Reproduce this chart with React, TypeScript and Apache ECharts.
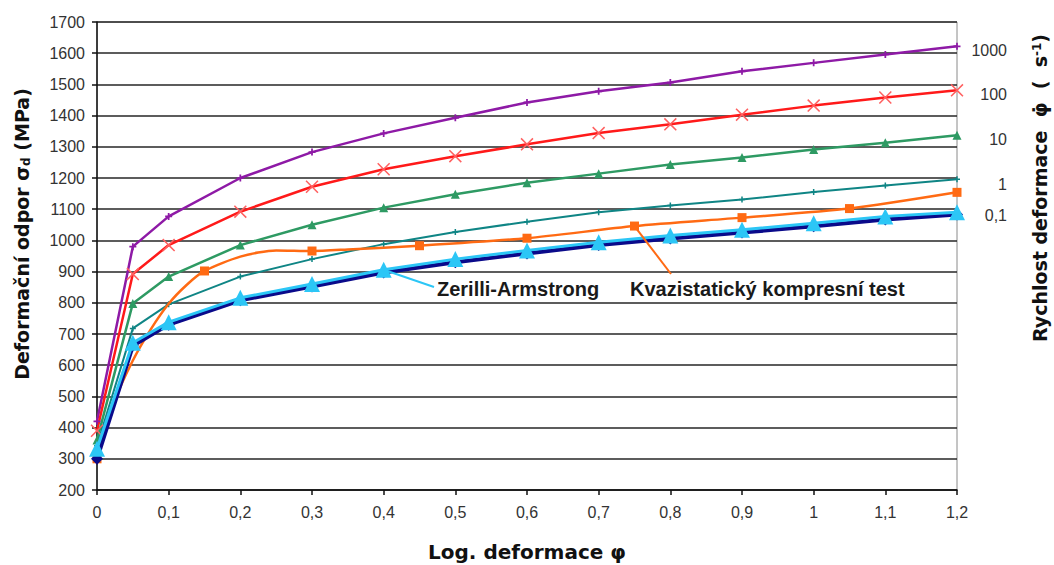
import React, { useEffect, useRef } from 'react';
import * as echarts from 'echarts';

// Log. deformace (strain) at which the model curves were sampled
const strain = [0, 0.05, 0.1, 0.2, 0.3, 0.4, 0.5, 0.6, 0.7, 0.8, 0.9, 1.0, 1.1, 1.2];
// Flow stress (MPa) for strain rates (s^-1)
const rate1000 = [420, 980, 1077, 1200, 1283, 1343, 1393, 1442, 1478, 1506, 1542, 1569, 1596, 1622];
const rate100 = [390, 892, 985, 1092, 1172, 1228, 1270, 1308, 1344, 1372, 1403, 1432, 1458, 1481];
const rate10 = [360, 798, 884, 985, 1050, 1105, 1148, 1185, 1214, 1243, 1266, 1291, 1313, 1337];
const rate1 = [342, 718, 795, 884, 940, 988, 1027, 1060, 1090, 1112, 1131, 1155, 1176, 1196];
const rate01 = [300, 662, 730, 808, 852, 897, 930, 958, 985, 1006, 1025, 1045, 1067, 1083];
const zerilli = [332, 672, 738, 816, 860, 906, 940, 968, 994, 1016, 1034, 1055, 1077, 1090];
// Quasi-static compression test
const kvStrain = [0, 0.025, 0.05, 0.075, 0.1, 0.125, 0.15, 0.2, 0.25, 0.3, 0.35, 0.45, 0.6, 0.75, 0.9, 1.05, 1.2];
const kvStress = [300, 487, 615, 715, 797, 857, 902, 948, 968, 966, 971, 983, 1007, 1046, 1073, 1102, 1154];
const kvMeasured = [0, 0.15, 0.3, 0.45, 0.6, 0.75, 0.9, 1.05, 1.2];

const xTickLabels = ['0', '0,1', '0,2', '0,3', '0,4', '0,5', '0,6', '0,7', '0,8', '0,9', '1', '1,1', '1,2'];
const rateLabels = ['1000', '100', '10', '1', '0,1'];

const pair = (xs: number[], ys: number[]) => xs.map((x, i) => [x, ys[i]]);

const plusPath = 'path://M3,0H5V3H8V5H5V8H3V5H0V3H3Z';
const crossPath = 'path://M0,1L1,0L6,5L11,0L12,1L7,6L12,11L11,12L6,7L1,12L0,11L5,6Z';
const arial = 'Liberation Sans, Arial, sans-serif';
const dejavu = 'DejaVu Sans, Verdana, sans-serif';

const mk = (
  name: string, ys: number[], color: string, width: number, symbol: string,
  size: number, z: number, label?: string, dy = 4, symColor?: string
) => ({
  type: 'line', name, data: pair(strain, ys), symbol, symbolSize: size,
  showAllSymbol: true, z,
  lineStyle: { color, width },
  itemStyle: { color: symColor ?? color },
  emphasis: { disabled: true },
  endLabel: label
    ? { show: true, formatter: () => label, color: '#333', fontSize: 16, fontFamily: arial,
        align: 'right', distance: 0, offset: [50, dy] }
    : { show: false },
});

export default function App() {
  const ref = useRef<HTMLDivElement>(null);
  useEffect(() => {
    const chart = echarts.init(ref.current!, null, { renderer: 'svg' });
    const option: any = {
      animation: false,
      backgroundColor: '#fff',
      grid: { left: 97, right: 97, top: 22, bottom: 75, show: true, borderColor: '#8a8a8a', borderWidth: 1 },
      xAxis: {
        type: 'value', min: 0, max: 1.2, interval: 0.1,
        axisLine: { show: true, onZero: false, lineStyle: { color: '#111', width: 1.5 } },
        axisTick: { show: true, length: 5, lineStyle: { color: '#111', width: 1.5 } },
        splitLine: { show: false },
        axisLabel: {
          formatter: (v: number) => xTickLabels[Math.round(v * 10)], margin: 14,
          fontSize: 16, color: '#333', fontFamily: arial,
        },
      },
      yAxis: {
        type: 'value', min: 200, max: 1700, interval: 100,
        axisLine: { show: true, lineStyle: { color: '#111', width: 1.5 } },
        axisTick: { show: true, length: 5, lineStyle: { color: '#111', width: 1.5 } },
        splitLine: { show: true, lineStyle: { color: '#262626', width: 1.6 } },
        axisLabel: {
          formatter: (v: number) => String(v),
          fontSize: 16, color: '#333', fontFamily: arial, margin: 12,
        },
      },
      series: [
        mk('1000', rate1000, '#8e1aa6', 2.5, plusPath, 7, 5, rateLabels[0], 4),
        mk('100', rate100, '#ff1a1a', 2.5, crossPath, 13, 5, rateLabels[1], 4, '#ff6060'),
        mk('10', rate10, '#2e9a63', 2.5, 'triangle', 9, 5, rateLabels[2], 4),
        mk('1', rate1, '#0f8585', 2, plusPath, 6, 5, rateLabels[3], 5),
        {
          type: 'line', name: 'Kvazistatický kompresní test', z: 6, smooth: 0.25,
          data: kvStrain.map((x, i) => ({
            value: [x, kvStress[i]],
            symbol: kvMeasured.includes(x) ? 'rect' : 'none',
          })),
          symbolSize: 9, showAllSymbol: true,
          lineStyle: { color: '#ff6a13', width: 2.5 },
          itemStyle: { color: '#ff6a13' },
          emphasis: { disabled: true },
        },
        mk('0,1', rate01, '#0a0a8a', 4, 'diamond', 12, 7, rateLabels[4], 1),
        mk('Zerilli-Armstrong', zerilli, '#2cc6f6', 3, 'triangle', 16, 8),
      ],
    };
    chart.setOption(option);

    const pZA = chart.convertToPixel({ gridIndex: 0 }, [strain[5], zerilli[5]]) as number[];
    const k = kvStrain.indexOf(0.75);
    const pKV = chart.convertToPixel({ gridIndex: 0 }, [kvStrain[k], kvStress[k]]) as number[];

    chart.setOption({
      graphic: [
        {
          type: 'text', x: 22, y: 234, rotation: Math.PI / 2,
          style: {
            text: '{a|Deformační odpor σ}{s|d}{a| (MPa)}',
            rich: {
              a: { fontFamily: dejavu, fontSize: 19, fontWeight: 'bold', fill: '#111' },
              s: { fontFamily: dejavu, fontSize: 12, fontWeight: 'bold', fill: '#111', verticalAlign: 'bottom' },
            },
            align: 'center', verticalAlign: 'middle',
          },
        },
        {
          type: 'text', x: 1040, y: 188, rotation: Math.PI / 2,
          style: {
            text: '{a|Rychlost deformace  φ̇  (  s}{p|-1}{a|)}',
            rich: {
              a: { fontFamily: dejavu, fontSize: 19, fontWeight: 'bold', fill: '#111' },
              p: { fontFamily: dejavu, fontSize: 12, fontWeight: 'bold', fill: '#111', verticalAlign: 'top' },
            },
            align: 'center', verticalAlign: 'middle',
          },
        },
        {
          type: 'text', x: 527, y: 552,
          style: {
            text: 'Log. deformace φ', fontFamily: dejavu, fontSize: 20, fontWeight: 'bold', fill: '#111',
            align: 'center', verticalAlign: 'middle',
          },
        },
        {
          type: 'line', z: 50,
          shape: { x1: pZA[0], y1: pZA[1], x2: 434, y2: 287 },
          style: { stroke: '#2cc6f6', lineWidth: 2 },
        },
        {
          type: 'line', z: 50,
          shape: { x1: pKV[0], y1: pKV[1], x2: 671, y2: 274 },
          style: { stroke: '#ff6a13', lineWidth: 2 },
        },
        {
          type: 'text', x: 437, y: 289, z: 50,
          style: {
            text: 'Zerilli-Armstrong', fontFamily: arial, fontSize: 20, fontWeight: 'bold', fill: '#1a1a1a',
            align: 'left', verticalAlign: 'middle',
          },
        },
        {
          type: 'text', x: 630, y: 289, z: 50,
          style: {
            text: 'Kvazistatický kompresní test', fontFamily: arial, fontSize: 20, fontWeight: 'bold', fill: '#1a1a1a',
            align: 'left', verticalAlign: 'middle',
          },
        },
      ],
    });
    return () => chart.dispose();
  }, []);
  return (
    <div
      ref={ref}
      style={{ position: 'fixed', left: 0, top: 0, width: 1054, height: 565, background: '#fff' }}
    />
  );
}
